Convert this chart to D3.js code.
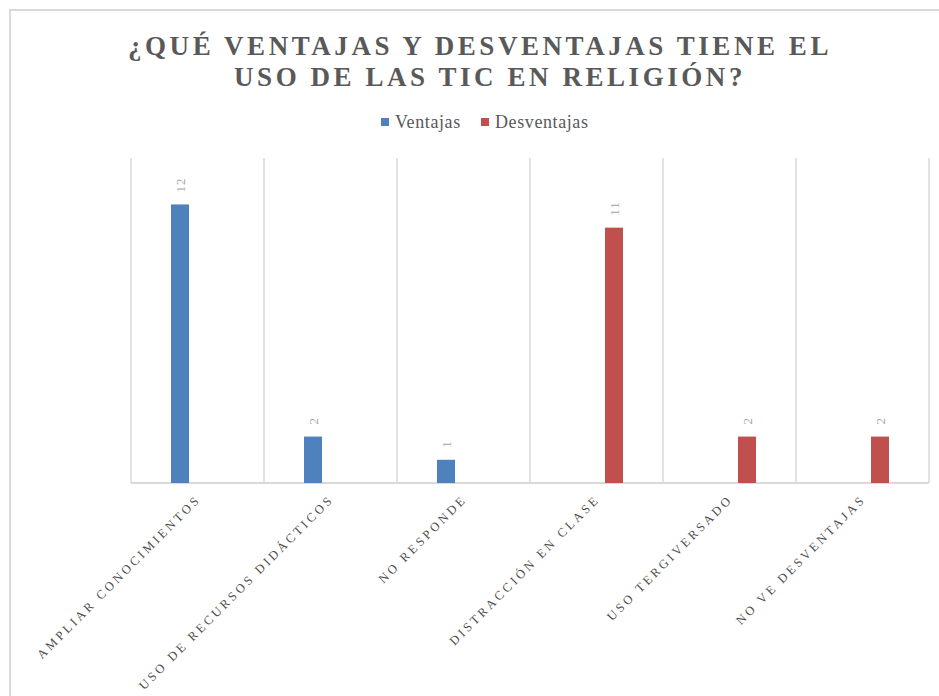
<!DOCTYPE html>
<html>
<head>
    <meta charset="utf-8">
    <style>
        body { margin: 0; background: white; }
        svg { display: block; }
        .grid line { stroke: #d9d9d9; stroke-width: 1.5px; }
    </style>
</head>
<body>
    <svg width="939" height="696" id="chart"></svg>
<script src="https://d3js.org/d3.v7.min.js"></script>
<script>
    // data
    let categories = ["AMPLIAR CONOCIMIENTOS", "USO DE RECURSOS DIDÁCTICOS", "NO RESPONDE",
        "DISTRACCIÓN EN CLASE", "USO TERGIVERSADO", "NO VE DESVENTAJAS"]
    let seriesNames = ["Ventajas", "Desventajas"]
    let ventajas = [12, 2, 1, null, null, null]
    let desventajas = [null, null, null, 11, 2, 2]
    let colors = ["#4f81bd", "#c0504d"]
    let titleLines = ["¿QUÉ VENTAJAS Y DESVENTAJAS TIENE EL", "USO DE LAS TIC EN RELIGIÓN?"]

    let svg = d3.select("#chart")
    let serif = "'Liberation Serif', 'DejaVu Serif', serif"

    // outer frame
    svg.append("rect")
        .attr("x", 10).attr("y", 10)
        .attr("width", 940).attr("height", 700)
        .style("fill", "none")
        .style("stroke", "#d9d9d9")
        .style("stroke-width", 2)

    let margin = { top: 158, left: 131, right: 929, bottom: 483 }

    let x = d3.scaleBand()
        .domain(categories)
        .range([margin.left, margin.right])

    let x1 = d3.scaleBand()
        .domain(seriesNames)
        .range([-26.5, 26.5])
        .paddingInner(0.486)

    let y = d3.scaleLinear()
        .domain([0, 14])
        .range([margin.bottom, margin.top])

    // vertical gridlines between categories
    let edges = categories.map(c => x(c)).concat([margin.right])
    svg.append("g").attr("class", "grid")
        .selectAll("line")
        .data(edges)
        .join("line")
        .attr("x1", d => d).attr("x2", d => d)
        .attr("y1", y(14)).attr("y2", y(0))

    // baseline
    svg.append("line")
        .attr("x1", margin.left).attr("x2", margin.right)
        .attr("y1", y(0)).attr("y2", y(0))
        .style("stroke", "#d9d9d9")
        .style("stroke-width", 2)

    let rows = []
    categories.forEach((c, i) => {
        if (ventajas[i] != null) rows.push({ cat: c, s: "Ventajas", v: ventajas[i], color: colors[0] })
        if (desventajas[i] != null) rows.push({ cat: c, s: "Desventajas", v: desventajas[i], color: colors[1] })
    })

    let cx = d => x(d.cat) + x.bandwidth() / 2 + x1(d.s)

    svg.append("g")
        .selectAll("rect")
        .data(rows)
        .join("rect")
        .attr("x", cx)
        .attr("y", d => y(d.v))
        .attr("width", x1.bandwidth())
        .attr("height", d => y(0) - y(d.v))
        .style("fill", d => d.color)

    // value labels, rotated
    svg.append("g")
        .selectAll("text")
        .data(rows)
        .join("text")
        .attr("transform", d => `translate(${cx(d) + x1.bandwidth() / 2 + 5},${y(d.v) - 12}) rotate(-90)`)
        .text(d => d.v)
        .style("fill", "#a6a6a6")
        .style("font", "13px " + serif)
        .style("letter-spacing", "1px")

    // category labels
    svg.append("g")
        .selectAll("text")
        .data(categories)
        .join("text")
        .attr("transform", d => `translate(${x(d) + x.bandwidth() / 2 + 4},${margin.bottom + 17}) rotate(-45)`)
        .attr("text-anchor", "end")
        .text(d => d)
        .style("fill", "#4d4d4d")
        .style("font", "12.5px " + serif)
        .style("letter-spacing", "3px")

    // title, letter spacing fitted so the first line is ~704px wide
    let title = svg.append("g")
        .selectAll("text")
        .data(titleLines)
        .join("text")
        .attr("x", (d, i) => i == 0 ? 480 : 490)
        .attr("y", (d, i) => 55 + i * 31)
        .attr("text-anchor", "middle")
        .text(d => d)
        .style("fill", "#595959")
        .style("font", "bold 27px " + serif)
    let spacing = (704 - title.node().getComputedTextLength()) / titleLines[0].length
    title.style("letter-spacing", spacing + "px")

    // legend
    let legendX = [381, 481]
    let legend = svg.append("g")
        .selectAll("g")
        .data(seriesNames)
        .join("g")
        .attr("transform", (d, i) => `translate(${legendX[i]},118)`)
    legend.append("rect")
        .attr("width", 8).attr("height", 8)
        .style("fill", (d, i) => colors[i])
    legend.append("text")
        .attr("x", 14).attr("y", 10)
        .text(d => d)
        .style("fill", "#595959")
        .style("font", "18px " + serif)
        .style("letter-spacing", "0.6px")
</script>
</body>
</html>
